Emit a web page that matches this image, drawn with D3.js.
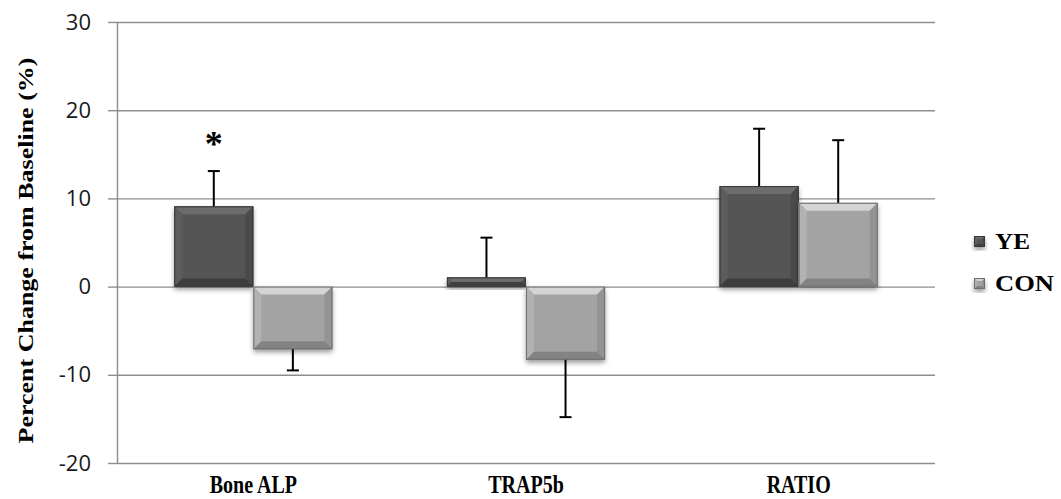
<!DOCTYPE html>
<html>
<head>
<meta charset="utf-8">
<script src="https://cdn.jsdelivr.net/npm/d3@7"></script>
<style>
  html, body { margin: 0; padding: 0; background: #fff; }
  svg { display: block; }
</style>
</head>
<body>
<div id="chart"></div>
<script>
// ---- data ----
const categories = ["Bone ALP", "TRAP5b", "RATIO"];
const seriesNames = ["YE", "CON"];
const yeValues  = [9.1, 1.05, 11.4];
const yeErrors  = [4.0, 4.5, 6.5];
const conValues = [-7.1, -8.3, 9.5];
const conErrors = [2.4, 6.5, 7.1];
const yTicks = [-20, -10, 0, 10, 20, 30];
const significant = ["Bone ALP|YE"];

// ---- styles ----
const COLORS = {
  YE:  { face: "#555555", light: "#6c6c6c", side: "#5c5c5c", right: "#4a4a4a", dark: "#3e3e3e", edge: "#383838" },
  CON: { face: "#a3a3a3", light: "#d4d4d4", side: "#b2b2b2", right: "#939393", dark: "#838383", edge: "#6e6e6e" },
  grid: "#8e8e8e",
  text: "#1a1a1a"
};

const W = 1061, H = 499;
const plotL = 117, plotR = 935, plotT = 22, plotB = 463;
const serif = "'Liberation Serif', 'Times New Roman', serif";

const svg = d3.select("#chart").append("svg")
  .attr("width", W).attr("height", H);

const defs = svg.append("defs");
const shadow = defs.append("filter").attr("id", "shadow")
  .attr("x", "-20%").attr("y", "-20%").attr("width", "140%").attr("height", "150%");
shadow.append("feGaussianBlur").attr("in", "SourceAlpha").attr("stdDeviation", 2.5);
shadow.append("feOffset").attr("dy", 3).attr("result", "b");
shadow.append("feComponentTransfer").append("feFuncA").attr("type", "linear").attr("slope", 0.4);

const y = d3.scaleLinear().domain([-20, 30]).range([plotB, plotT]);
const x0 = d3.scaleBand().domain(categories).range([plotL, plotR])
  .paddingInner(0.42).paddingOuter(0.21);
const x1 = d3.scaleBand().domain(seriesNames).range([0, x0.bandwidth()]);

// ---- grid ----
svg.append("g")
  .attr("transform", `translate(${plotL},0)`)
  .call(d3.axisLeft(y).tickValues(yTicks).tickSize(-(plotR - plotL)).tickFormat(""))
  .call(g => g.select(".domain").remove())
  .call(g => g.selectAll("line").attr("stroke", COLORS.grid).attr("stroke-width", 1.4));

// ---- y axis with outside stubs ----
svg.append("g")
  .attr("transform", `translate(${plotL},0)`)
  .call(d3.axisLeft(y).tickValues(yTicks).tickSize(9).tickPadding(17).tickSizeOuter(0)
    .tickFormat(d => String(d)))
  .call(g => g.select(".domain").attr("stroke", COLORS.grid).attr("stroke-width", 1.4))
  .call(g => g.selectAll("line").attr("stroke", COLORS.grid).attr("stroke-width", 1.4))
  .call(g => g.selectAll("text")
    .attr("font-family", "'Open Sans', 'Liberation Sans', sans-serif")
    .attr("font-size", "22px").attr("fill", COLORS.text));

// ---- bars ----
const rows = [];
categories.forEach((c, i) => {
  rows.push({ cat: c, s: "YE", v: yeValues[i], e: yeErrors[i] });
  rows.push({ cat: c, s: "CON", v: conValues[i], e: conErrors[i] });
});

function bevelBar(g, x, yTop, w, h, col, bev) {
  const b = Math.min(bev, h / 2, w / 2);
  const x2 = x + w, y2 = yTop + h;
  g.append("rect").attr("x", x).attr("y", yTop).attr("width", w).attr("height", h)
    .attr("fill", col.face).attr("filter", "url(#shadow)");
  g.append("rect").attr("x", x).attr("y", yTop).attr("width", w).attr("height", h)
    .attr("fill", col.face);
  const poly = pts => g.append("path").attr("d", "M" + pts.map(p => p.join(",")).join("L") + "Z");
  poly([[x, yTop], [x2, yTop], [x2 - b, yTop + b], [x + b, yTop + b]]).attr("fill", col.light);
  poly([[x, yTop], [x + b, yTop + b], [x + b, y2 - b], [x, y2]]).attr("fill", col.side);
  poly([[x2, yTop], [x2, y2], [x2 - b, y2 - b], [x2 - b, yTop + b]]).attr("fill", col.right);
  poly([[x, y2], [x + b, y2 - b], [x2 - b, y2 - b], [x2, y2]]).attr("fill", col.dark);
  g.append("rect").attr("x", x + 0.5).attr("y", yTop + 0.5).attr("width", w - 1).attr("height", Math.max(0, h - 1))
    .attr("fill", "none").attr("stroke", col.edge).attr("stroke-width", 1);
}

const barG = svg.append("g");
rows.forEach(d => {
  const bx = x0(d.cat) + x1(d.s);
  const yv = y(d.v), y0 = y(0);
  const g = barG.append("g");
  bevelBar(g, bx, Math.min(yv, y0), x1.bandwidth(), Math.abs(yv - y0), COLORS[d.s], 8);
});

// ---- error bars (one-sided, away from zero) ----
const errG = svg.append("g").attr("stroke", "#000").attr("stroke-width", 2);
rows.forEach(d => {
  const cx = x0(d.cat) + x1(d.s) + x1.bandwidth() / 2;
  const end = d.v >= 0 ? d.v + d.e : d.v - d.e;
  errG.append("line").attr("x1", cx).attr("x2", cx).attr("y1", y(d.v)).attr("y2", y(end));
  errG.append("line").attr("x1", cx - 6).attr("x2", cx + 6).attr("y1", y(end)).attr("y2", y(end));
  if (significant.includes(d.cat + "|" + d.s)) {
    svg.append("text").attr("x", cx).attr("y", y(end) - 15)
      .attr("text-anchor", "middle")
      .attr("font-family", serif)
      .attr("font-weight", "bold").attr("font-size", "36px").attr("fill", "#000")
      .text("*");
  }
});

// ---- category labels ----
svg.append("g").selectAll("text").data(categories).join("text")
  .attr("transform", d => `translate(${x0(d) + x0.bandwidth() / 2},${493}) scale(0.8,1)`)
  .attr("text-anchor", "middle")
  .attr("font-family", serif)
  .attr("font-weight", "bold").attr("font-size", "25px").attr("fill", "#000")
  .text(d => d);

// ---- y title ----
svg.append("text")
  .attr("transform", `translate(33,${(plotT + plotB) / 2 + 8}) rotate(-90) scale(1,0.82)`)
  .attr("text-anchor", "middle")
  .attr("font-family", serif)
  .attr("font-weight", "bold").attr("font-size", "26px").attr("fill", "#000")
  .text("Percent Change from Baseline (%)");

// ---- legend ----
const legend = svg.append("g").attr("transform", "translate(974,236)");
seriesNames.forEach((s, i) => {
  const g = legend.append("g").attr("transform", `translate(0,${i * 42})`);
  bevelBar(g, 0, 0, 11, 11, COLORS[s], 3);
  g.append("text").attr("x", 21).attr("y", 13)
    .attr("transform", "scale(1,1)")
    .attr("font-family", serif)
    .attr("font-weight", "bold").attr("font-size", "24px").attr("fill", "#000")
    .attr("textLength", s === "YE" ? 35 : 59).attr("lengthAdjust", "spacingAndGlyphs")
    .text(s);
});
</script>
</body>
</html>
